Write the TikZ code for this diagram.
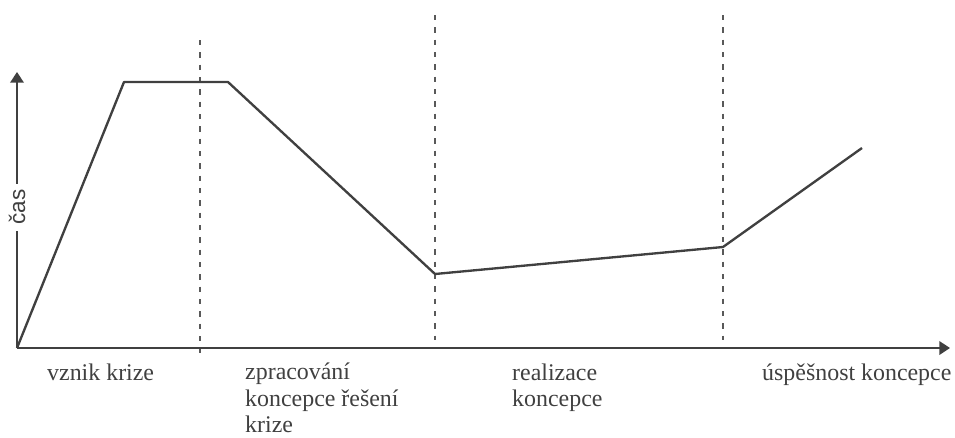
\documentclass[tikz,border=0pt]{standalone}
\usepackage{fontspec}
\setmainfont{Liberation Serif}
\newfontfamily\osafont{Liberation Sans}
\usetikzlibrary{arrows.meta}
\begin{document}
\begin{tikzpicture}[x=0.03cm,y=-0.03cm,
    osa/.style={line width=2.1pt,draw=black!75,-{Triangle[length=0.32cm,width=0.4cm]}},
    faze/.style={dash pattern=on 0.16cm off 0.21cm,line width=1.3pt,draw=black!65},
    krivka/.style={line width=2pt,draw=black!75,line join=round},
    popis/.style={font=\fontsize{20.4}{22.2}\selectfont,text=black!75,inner sep=0pt,align=left,anchor=base west}]
    \useasboundingbox (0,0) rectangle (955,437);

    \coordinate (O) at (17,348); %pocatek
    \coordinate (X) at (950,348); %konec osy x
    \coordinate (Y) at (17,72); %konec osy y
    \coordinate (A) at (124,82); %vrchol
    \coordinate (B) at (228,82); %konec plato
    \coordinate (C) at (435,274); %minimum
    \coordinate (D) at (723,247); %zlom
    \coordinate (E) at (862,148); %konec krivky
    \coordinate (H1) at (200,40); \coordinate (D1) at (200,353); %hranice 1
    \coordinate (H2) at (435,15); \coordinate (D2) at (435,340); %hranice 2
    \coordinate (H3) at (723,15); \coordinate (D3) at (723,340); %hranice 3

    \foreach \i in {1,2,3} \draw[faze] (H\i) -- (D\i);
    \draw[osa] (O) -- (X);
    \draw[osa] (O) -- (Y);
    \node[rotate=90,fill=white,inner xsep=0.18cm,inner ysep=0pt,text=black!75,
          font=\osafont\fontsize{19.2}{23}\selectfont] (cas) at (17,207) {čas};
    \draw[krivka] (O) -- (A) -- (B) -- (C) -- (D) -- (E);

    % base = posledni radek
    \node[popis] (vznik) at (47,380) {vznik krize};
    \node[popis] (zprac) at (245,432) {zpracování\\koncepce řešení\\krize};
    \node[popis] (real) at (512,406) {realizace\\koncepce};
    \node[popis] (uspech) at (762,380) {úspěšnost koncepce};
\end{tikzpicture}
\end{document}
